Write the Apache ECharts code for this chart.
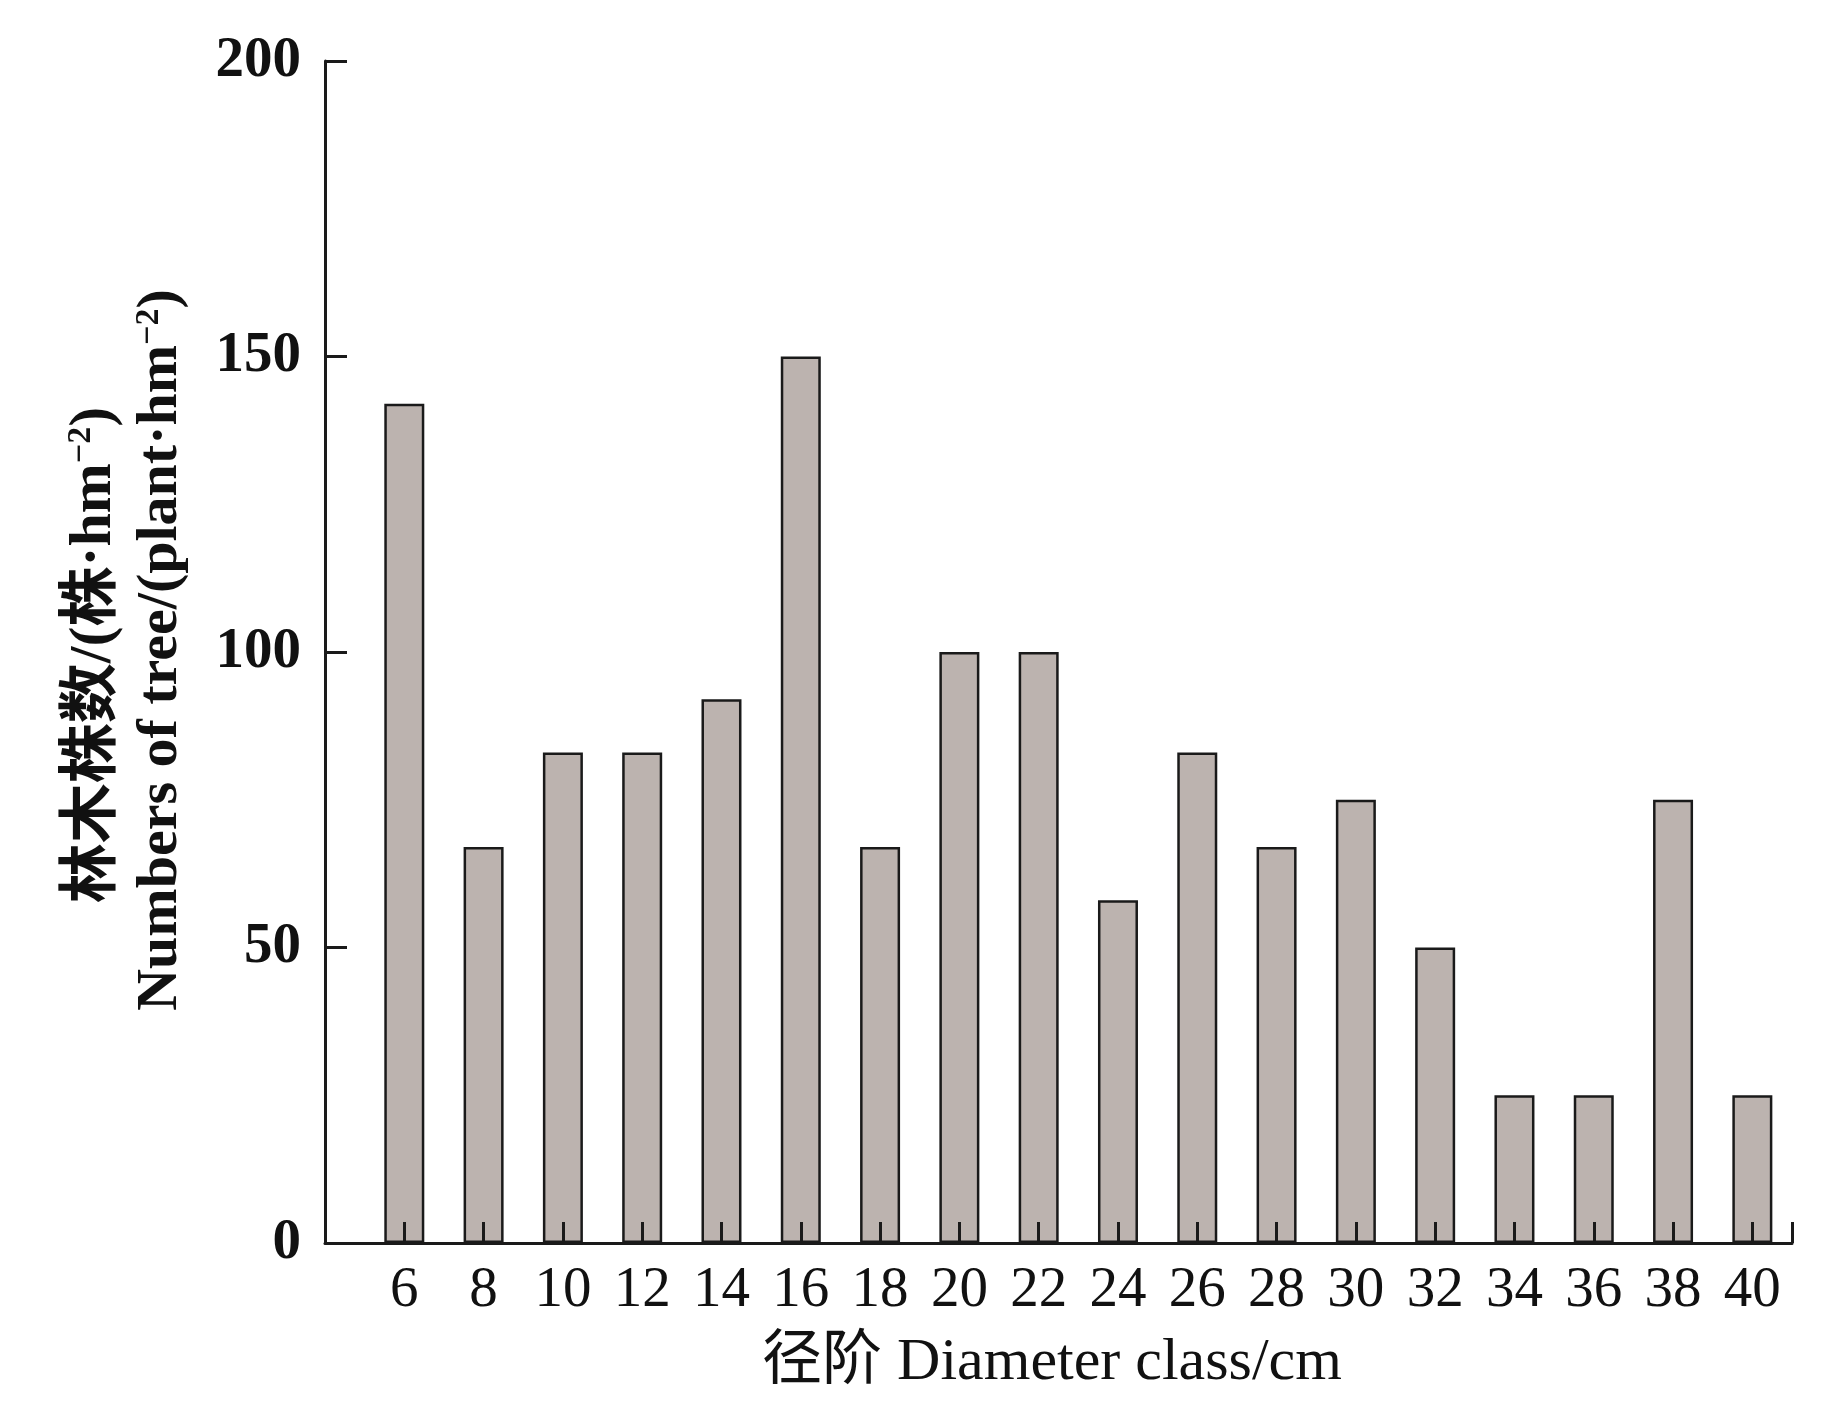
<!DOCTYPE html>
<html>
<head>
<meta charset="utf-8">
<script src="https://cdn.jsdelivr.net/npm/echarts@6/dist/echarts.min.js"></script>
<style>
html,body{margin:0;padding:0;background:#fff;}
#chart{width:1843px;height:1404px;}
</style>
</head>
<body>
<div id="chart"></div>
<script>
// Diameter classes (cm)
const diameterClasses = [6, 8, 10, 12, 14, 16, 18, 20, 22, 24, 26, 28, 30, 32, 34, 36, 38, 40];
// Numbers of tree (plant·hm^-2)
const treeCounts = [142, 67, 83, 83, 92, 150, 67, 100, 100, 58, 83, 67, 75, 50, 25, 25, 75, 25];
// Y tick labels
const yTicks = [0, 50, 100, 150, 200];
// X axis extent (one empty band left, half band right)
const xMin = 4, xMax = 41;

const serif = '"Times New Roman","Liberation Serif","DejaVu Serif",serif';
const cjkSerif = '"Liberation Serif","Noto Sans CJK SC",serif';

const chart = echarts.init(document.getElementById('chart'));
const barData = diameterClasses.map((c, i) => [c, treeCounts[i]]);

chart.setOption({
  animation: false,
  backgroundColor: '#ffffff',
  grid: { left: 325, right: 51, top: 61, bottom: 161, containLabel: false },
  xAxis: {
    type: 'value',
    min: xMin,
    max: xMax,
    interval: 2,
    z: 5,
    splitLine: { show: false },
    axisLine: { show: true, onZero: false, lineStyle: { color: '#1a1a1a', width: 3 } },
    axisTick: {
      show: true, inside: true, length: 21,
      customValues: diameterClasses.concat([xMax]),
      lineStyle: { color: '#1a1a1a', width: 3 }
    },
    axisLabel: {
      customValues: diameterClasses,
      margin: 20,
      color: '#111',
      fontFamily: serif,
      fontSize: 57
    }
  },
  yAxis: {
    type: 'value',
    min: yTicks[0],
    max: yTicks[yTicks.length - 1],
    interval: yTicks[1] - yTicks[0],
    z: 5,
    splitLine: { show: false },
    axisLine: { show: true, lineStyle: { color: '#1a1a1a', width: 3 } },
    axisTick: { show: true, inside: true, length: 22, lineStyle: { color: '#1a1a1a', width: 3 } },
    axisLabel: {
      margin: 24,
      color: '#111',
      fontFamily: serif,
      fontWeight: 'bold',
      fontSize: 57
    }
  },
  series: [{
    type: 'bar',
    data: barData,
    barWidth: 40,
    itemStyle: { color: '#bcb3af', borderColor: '#1a1a1a', borderWidth: 2.5 }
  }],
  graphic: [
    {
      type: 'text',
      x: 1052, y: 1363,
      style: {
        text: '径阶 Diameter class/cm',
        font: '60px ' + cjkSerif,
        fill: '#111',
        textAlign: 'center',
        textVerticalAlign: 'middle'
      }
    },
    {
      type: 'text',
      x: 94, y: 655,
      rotation: Math.PI / 2,
      style: {
        text: '林木株数/(株·hm{sup|−2})',
        font: 'bold 60px ' + cjkSerif,
        fill: '#111',
        textAlign: 'center',
        textVerticalAlign: 'middle',
        rich: {
          sup: { fontSize: 34, fontWeight: 'bold', fontFamily: serif, verticalAlign: 'top', fill: '#111' }
        }
      }
    },
    {
      type: 'text',
      x: 161, y: 650,
      rotation: Math.PI / 2,
      style: {
        text: 'Numbers of tree/(plant·hm{sup|−2})',
        font: 'bold 58px ' + serif,
        fill: '#111',
        textAlign: 'center',
        textVerticalAlign: 'middle',
        rich: {
          sup: { fontSize: 34, fontWeight: 'bold', fontFamily: serif, verticalAlign: 'top', fill: '#111' }
        }
      }
    }
  ]
});
</script>
</body>
</html>
